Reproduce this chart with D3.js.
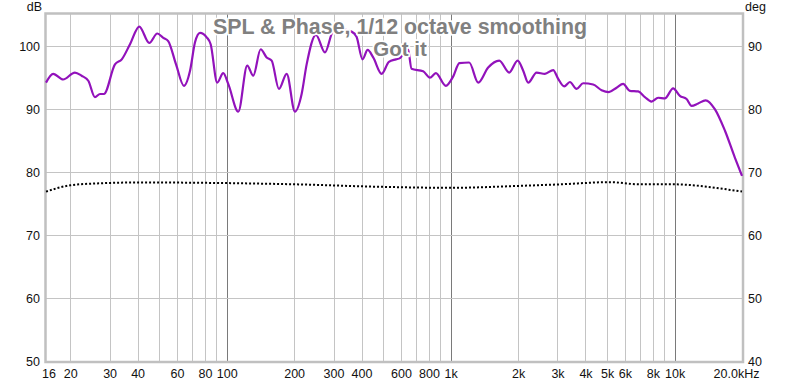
<!DOCTYPE html>
<html><head><meta charset="utf-8">
<script src="https://cdn.jsdelivr.net/npm/d3@7"></script>
<style>html,body{margin:0;padding:0;background:#fff;}svg{display:block;}</style>
</head><body>
<svg id="c" width="800" height="382"></svg>
<script>
const titleLine1 = "SPL & Phase, 1/12 octave smoothing";
const titleLine2 = "Got it";
const leftUnit = "dB";
const rightUnit = "deg";

const splFreq = [15.6,16.8,18.6,21.0,22.5,24.1,25.8,27.2,28.3,31.7,34.0,37.0,40.7,45.1,49.0,52.1,54.8,59.4,64.4,68.6,72.2,76.0,81.4,84.8,90.7,96.5,101.6,112.7,123.5,131.4,141.8,150.8,158.8,171.1,185.3,201.7,216.1,227.5,250.4,274.6,298,320,361,380,404,426,451,492,530,570,594,644,669,754,808,859,952,1027,1094,1210,1328,1471,1648,1826,1991,2109,2220,2420,2635,2870,3022,3214,3408,3651,3906,4329,4721,5088,5507,5892,6312,6878,7368,7891,8446,9050,9853,10559,11313,11909,12744,13750,15126,16771,18584,20000];
const splDb = [94.2,95.6,94.7,95.8,95.3,94.5,91.9,92.4,92.4,97.1,97.9,100.3,103.1,100.5,102.0,101.3,100.8,97.1,93.7,96.1,100.6,102.1,101.4,100.3,94.2,95.7,94.0,89.6,96.9,95.3,99.5,98.2,97.7,93.2,95.6,89.6,92.4,97.1,101.8,99.0,102.3,102.7,102.3,101.5,97.9,99.4,98.2,95.6,97.5,97.9,98.1,99.6,96.4,96.0,95.0,95.7,93.7,95.2,97.3,97.4,94.2,96.6,97.7,95.8,97.7,96.1,94.2,95.8,95.6,96.2,94.8,93.6,94.3,93.2,94.1,93.9,93.0,92.7,93.4,94.0,92.9,92.8,91.9,91.2,91.8,91.7,93.3,92.1,91.6,90.5,90.9,91.4,90.0,86.6,82.3,79.4];

const phaseFreq = [15.6,20,26.3,41,100,205,498,1000,2000,3076,5142,7000,10000,12976,15928,20000];
const phaseDeg = [66.9,67.9,68.2,68.35,68.25,68.05,67.65,67.5,67.8,68.05,68.4,68.05,68.05,67.8,67.4,66.9];

const xGrid = [20,30,40,50,60,70,80,90,100,200,300,400,500,600,700,800,900,1000,2000,3000,4000,5000,6000,7000,8000,9000,10000];
const xMajor = [100,1000,10000];
const xTickVals = [16,20,30,40,60,80,100,200,300,400,600,800,1000,2000,3000,4000,5000,6000,8000,10000,20000];
const xTickLabels = ["16","20","30","40","60","80","100","200","300","400","600","800","1k","2k","3k","4k","5k","6k","8k","10k","20.0kHz"];
const yTicksLeft = [50,60,70,80,90,100];
const yTicksRight = [40,50,60,70,80,90];
const xDomain = [15.6, 20000];
const yLeftDomain = [50, 105.1];
const yRightDomain = [40, 95.1];

const L = 46, R = 742, T = 14, B = 361;
const svg = d3.select("#c");
const x = d3.scaleLog().domain(xDomain).range([L, R]);
const yL = d3.scaleLinear().domain(yLeftDomain).range([B, T]);
const yR = d3.scaleLinear().domain(yRightDomain).range([B, T]);

const font = "'Liberation Sans', Arial, sans-serif";

// gridlines
const g = svg.append("g");
g.selectAll("line.vx").data(xGrid).join("line")
  .attr("x1", d => Math.round(x(d)) + 0.5).attr("x2", d => Math.round(x(d)) + 0.5)
  .attr("y1", T).attr("y2", B)
  .attr("stroke", d => xMajor.includes(d) ? "#7a7a7a" : "#c4c4c4").attr("stroke-width", 1);
g.selectAll("line.hy").data(yTicksLeft.slice(1)).join("line")
  .attr("x1", L).attr("x2", R)
  .attr("y1", d => Math.round(yL(d)) + 0.5).attr("y2", d => Math.round(yL(d)) + 0.5)
  .attr("stroke", "#c4c4c4").attr("stroke-width", 1);

// axes (labels only)
const axL = d3.axisLeft(yL).tickValues(yTicksLeft).tickSize(0).tickPadding(4);
const axR = d3.axisRight(yR).tickValues(yTicksRight).tickSize(0).tickPadding(5);
const axB = d3.axisBottom(x).tickValues(xTickVals).tickFormat((d, i) => xTickLabels[i]).tickSize(0).tickPadding(8);
function styleAxis(sel) {
  sel.select(".domain").remove();
  sel.selectAll("text").attr("font-family", font).attr("font-size", 12.5).attr("fill", "#111");
}
svg.append("g").attr("transform", `translate(${L - 2},0)`).call(axL).call(styleAxis);
svg.append("g").attr("transform", `translate(${R + 1},0)`).call(axR).call(styleAxis);
const bx = svg.append("g").attr("transform", `translate(0,${B})`).call(axB).call(styleAxis);
bx.selectAll(".tick").filter((d) => d === 20000).select("text").attr("dx", -6);

svg.append("text").attr("x", 42).attr("y", 11).attr("text-anchor", "end")
  .attr("font-family", font).attr("font-size", 12.5).attr("fill", "#111").text(leftUnit);
svg.append("text").attr("x", 745).attr("y", 11)
  .attr("font-family", font).attr("font-size", 12.5).attr("fill", "#111").text(rightUnit);

// border
svg.append("rect").attr("x", L - 0.5).attr("y", T - 0.5).attr("width", R - L + 1.5).attr("height", B - T + 1.5)
  .attr("fill", "none").attr("stroke", "#c0c0c0").attr("stroke-width", 2.5);

// phase (dotted)
const phaseData = phaseFreq.map((f, i) => [f, phaseDeg[i]]);
svg.append("path").datum(phaseData)
  .attr("d", d3.line().x(d => x(d[0])).y(d => yR(d[1])).curve(d3.curveMonotoneX))
  .attr("fill", "none").attr("stroke", "#000").attr("stroke-width", 2).attr("stroke-dasharray", "2,2");

// SPL
const splData = splFreq.map((f, i) => [f, splDb[i]]);
svg.append("path").datum(splData)
  .attr("d", d3.line().x(d => x(d[0])).y(d => yL(d[1])).curve(d3.curveMonotoneX))
  .attr("fill", "none").attr("stroke", "#9212bb").attr("stroke-width", 2.2).attr("stroke-linejoin", "round");

// title with white halo
[[titleLine1, 34, 21.4], [titleLine2, 56, 20.5]].forEach(([t, yy, fs]) => {
  svg.append("text").attr("x", 400).attr("y", yy).attr("text-anchor", "middle")
    .attr("font-family", font).attr("font-size", fs).attr("font-weight", "bold")
    .attr("fill", "#808080").attr("stroke", "#fff").attr("stroke-width", 3.5)
    .attr("stroke-linejoin", "round").attr("paint-order", "stroke").text(t);
});
</script>
</body></html>
